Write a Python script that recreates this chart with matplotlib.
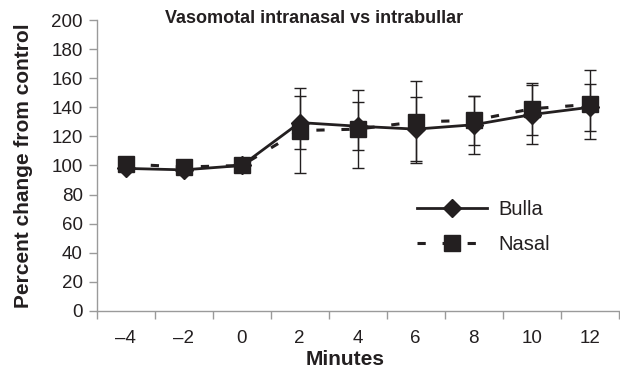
import matplotlib
matplotlib.use("Agg")
import matplotlib.pyplot as plt
import numpy as np
from matplotlib.ticker import FixedLocator, NullFormatter

minutes = [-4, -2, 0, 2, 4, 6, 8, 10, 12]
tick_labels = ["\u20134", "\u20132", "0", "2", "4", "6", "8", "10", "12"]
bulla = [98, 97, 100, 129.5, 127, 125, 128, 135, 140]
bulla_err = [0, 0, 0, 18.5, 16.5, 22, 20, 20, 16]
nasal = [101, 99, 100, 124, 125, 130, 131, 139, 142]
nasal_err = [0, 0, 0, 29, 27, 28, 17, 18, 23.5]

plt.rcParams['font.family'] = ['Liberation Sans', 'DejaVu Sans']
dark = '#231f20'
grey = '#9a9a9a'

fig = plt.figure(figsize=(6.2, 3.76), dpi=100)
ax = fig.add_axes([0.156, 0.1729, 0.842, 0.7739])

ax.errorbar(minutes, bulla, yerr=bulla_err, fmt='none', ecolor=dark,
            elinewidth=1.0, capsize=4.3, capthick=1.0, zorder=2)
ax.errorbar(minutes, nasal, yerr=nasal_err, fmt='none', ecolor=dark,
            elinewidth=1.0, capsize=4.3, capthick=1.0, zorder=2)
ax.plot(minutes, bulla, color=dark, lw=2.0, marker='D', markersize=8.8,
        label='Bulla', zorder=3)
ax.plot(minutes, nasal, color=dark, lw=2.2, marker='s', markersize=12.2,
        dashes=(2.7, 5.5), label='Nasal', zorder=4)

ax.set_xlim(-5, 13)
ax.set_ylim(0, 200)
ax.set_yticks(np.arange(0, 201, 20))

ax.xaxis.set_major_locator(FixedLocator(np.arange(-5, 14, 2)))
ax.xaxis.set_major_formatter(NullFormatter())
ax.set_xticks(minutes, minor=True)
ax.set_xticklabels(tick_labels, minor=True)

ax.tick_params(axis='x', which='major', length=6, width=1, color=grey, direction='out')
ax.tick_params(axis='x', which='minor', length=0, pad=13.5, labelsize=13.5, labelcolor=dark)
ax.tick_params(axis='y', length=6, width=1, color=grey, direction='out', pad=4,
               labelsize=13.5, labelcolor=dark)

for s in ['top', 'right']:
    ax.spines[s].set_visible(False)
for s in ['left', 'bottom']:
    ax.spines[s].set_color(grey)
    ax.spines[s].set_linewidth(1)

ax.set_xlabel('Minutes', fontsize=15, fontweight='bold', color=dark)
ax.xaxis.set_label_coords(0.475, -0.135)
ax.set_ylabel('Percent change from control', fontsize=15, fontweight='bold', color=dark)
ax.yaxis.set_label_coords(-0.122, 0.5)

fig.text(0.506, 0.952, 'Vasomotal intranasal vs intrabullar', ha='center', va='center',
         fontsize=13, fontweight='bold', color=dark)

leg = ax.legend(loc='center left', bbox_to_anchor=(0.613, 0.289), frameon=False,
                fontsize=14.5, handlelength=3.5, labelspacing=0.8, handletextpad=0.55,
                borderaxespad=0, borderpad=0)
for t in leg.get_texts():
    t.set_color(dark)

fig.savefig('out.png', dpi=100)
